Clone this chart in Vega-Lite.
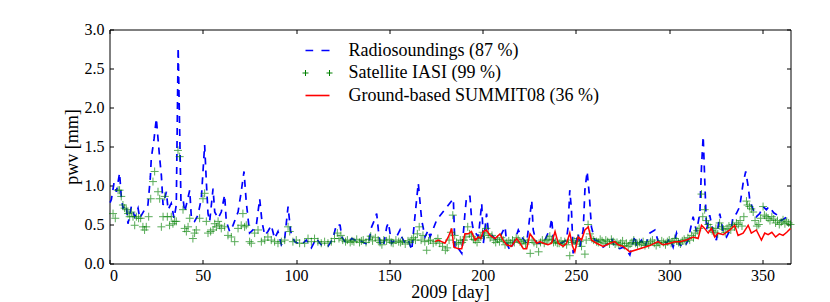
{
  "$schema": "https://vega.github.io/schema/vega-lite/v6.json",
  "width": 681,
  "height": 234,
  "autosize": {"type": "none"},
  "padding": {"left": 109.5, "top": 29.5, "right": 39.5, "bottom": 38.5},
  "background": "white",
  "datasets": {
    "radio": [
      {"day":0.3,"pwv":0.78},{"day":1.0,"pwv":0.82},{"day":2.4,"pwv":1.03},{"day":3.7,"pwv":0.92},{"day":5.4,"pwv":1.16},{"day":6.3,"pwv":0.86},{"day":7.2,"pwv":0.71},{"day":9.0,"pwv":0.75},{"day":9.9,"pwv":0.51},{"day":11.7,"pwv":0.73},{"day":13.5,"pwv":0.60},{"day":15.3,"pwv":0.71},{"day":16.2,"pwv":0.58},{"day":18.8,"pwv":0.69},{"day":20.6,"pwv":0.75},{"day":21.9,"pwv":1.11},{"day":22.4,"pwv":1.35},{"day":23.9,"pwv":1.60},{"day":25.1,"pwv":1.86},{"day":26.0,"pwv":1.60},{"day":26.9,"pwv":1.35},{"day":27.8,"pwv":1.13},{"day":28.7,"pwv":0.75},{"day":30.5,"pwv":0.92},{"day":31.4,"pwv":0.69},{"day":33.1,"pwv":0.77},{"day":34.6,"pwv":0.58},{"day":35.8,"pwv":0.75},{"day":36.8,"pwv":2.77},{"day":38.3,"pwv":0.80},{"day":39.4,"pwv":0.83},{"day":40.3,"pwv":0.66},{"day":43.0,"pwv":0.94},{"day":43.9,"pwv":0.58},{"day":45.6,"pwv":0.54},{"day":47.4,"pwv":0.62},{"day":49.2,"pwv":0.83},{"day":51.0,"pwv":1.52},{"day":51.9,"pwv":1.05},{"day":52.8,"pwv":0.64},{"day":53.7,"pwv":0.54},{"day":55.5,"pwv":0.96},{"day":56.4,"pwv":0.66},{"day":58.2,"pwv":0.58},{"day":59.9,"pwv":0.66},{"day":61.7,"pwv":0.88},{"day":62.6,"pwv":0.54},{"day":64.4,"pwv":0.41},{"day":66.2,"pwv":0.49},{"day":68.9,"pwv":0.66},{"day":70.6,"pwv":0.92},{"day":72.1,"pwv":1.18},{"day":73.3,"pwv":0.79},{"day":75.1,"pwv":0.39},{"day":76.9,"pwv":0.43},{"day":78.7,"pwv":0.49},{"day":80.5,"pwv":0.83},{"day":81.7,"pwv":0.54},{"day":83.2,"pwv":0.36},{"day":84.9,"pwv":0.41},{"day":86.7,"pwv":0.49},{"day":88.5,"pwv":0.32},{"day":90.3,"pwv":0.41},{"day":92.1,"pwv":0.24},{"day":93.9,"pwv":0.32},{"day":95.7,"pwv":0.73},{"day":97.1,"pwv":0.41},{"day":99.2,"pwv":0.28},{"day":102.8,"pwv":0.24},{"day":105.5,"pwv":0.30},{"day":108.2,"pwv":0.20},{"day":110.8,"pwv":0.32},{"day":113.5,"pwv":0.24},{"day":117.1,"pwv":0.22},{"day":119.8,"pwv":0.32},{"day":121.6,"pwv":0.50},{"day":123.6,"pwv":0.49},{"day":124.5,"pwv":0.34},{"day":126.2,"pwv":0.28},{"day":128.0,"pwv":0.26},{"day":129.8,"pwv":0.32},{"day":131.6,"pwv":0.30},{"day":133.4,"pwv":0.32},{"day":135.2,"pwv":0.28},{"day":137.0,"pwv":0.26},{"day":138.7,"pwv":0.24},{"day":140.5,"pwv":0.47},{"day":141.4,"pwv":0.52},{"day":143.2,"pwv":0.64},{"day":144.1,"pwv":0.43},{"day":145.0,"pwv":0.26},{"day":146.8,"pwv":0.22},{"day":148.6,"pwv":0.47},{"day":149.5,"pwv":0.52},{"day":151.2,"pwv":0.26},{"day":153.0,"pwv":0.30},{"day":155.7,"pwv":0.43},{"day":156.6,"pwv":0.34},{"day":158.4,"pwv":0.26},{"day":160.2,"pwv":0.30},{"day":162.0,"pwv":0.17},{"day":163.7,"pwv":0.60},{"day":165.5,"pwv":1.03},{"day":167.3,"pwv":0.56},{"day":169.1,"pwv":0.34},{"day":170.9,"pwv":0.43},{"day":171.8,"pwv":0.34},{"day":175.4,"pwv":0.56},{"day":184.3,"pwv":0.83},{"day":185.2,"pwv":0.17},{"day":187.0,"pwv":0.19},{"day":188.8,"pwv":0.13},{"day":190.5,"pwv":0.64},{"day":191.4,"pwv":0.86},{"day":193.2,"pwv":0.86},{"day":194.1,"pwv":0.56},{"day":195.0,"pwv":0.43},{"day":197.7,"pwv":0.34},{"day":199.5,"pwv":0.77},{"day":200.4,"pwv":0.26},{"day":202.1,"pwv":0.64},{"day":203.0,"pwv":0.43},{"day":205.7,"pwv":0.34},{"day":207.5,"pwv":0.30},{"day":209.3,"pwv":0.34},{"day":212.0,"pwv":0.47},{"day":212.9,"pwv":0.26},{"day":214.6,"pwv":0.17},{"day":217.3,"pwv":0.30},{"day":219.1,"pwv":0.43},{"day":220.9,"pwv":0.34},{"day":223.6,"pwv":0.26},{"day":226.3,"pwv":0.81},{"day":227.1,"pwv":0.43},{"day":228.9,"pwv":0.26},{"day":231.6,"pwv":0.26},{"day":233.4,"pwv":0.30},{"day":236.1,"pwv":0.45},{"day":237.0,"pwv":0.58},{"day":237.9,"pwv":0.30},{"day":240.5,"pwv":0.26},{"day":242.3,"pwv":0.26},{"day":244.9,"pwv":0.30},{"day":245.8,"pwv":0.47},{"day":246.7,"pwv":0.94},{"day":247.6,"pwv":0.69},{"day":248.5,"pwv":0.13},{"day":251.2,"pwv":0.39},{"day":252.1,"pwv":0.21},{"day":253.9,"pwv":0.43},{"day":254.8,"pwv":0.94},{"day":256.0,"pwv":1.18},{"day":257.1,"pwv":0.90},{"day":258.3,"pwv":0.47},{"day":260.1,"pwv":0.30},{"day":262.8,"pwv":0.28},{"day":264.6,"pwv":0.21},{"day":267.3,"pwv":0.26},{"day":269.1,"pwv":0.32},{"day":270.8,"pwv":0.21},{"day":273.5,"pwv":0.19},{"day":275.3,"pwv":0.21},{"day":277.1,"pwv":0.17},{"day":278.9,"pwv":0.11},{"day":281.6,"pwv":0.36},{"day":282.5,"pwv":0.21},{"day":285.1,"pwv":0.30},{"day":286.9,"pwv":0.21},{"day":289.6,"pwv":0.39},{"day":292.3,"pwv":0.43},{"day":294.1,"pwv":0.28},{"day":296.7,"pwv":0.30},{"day":298.5,"pwv":0.26},{"day":300.3,"pwv":0.32},{"day":302.1,"pwv":0.21},{"day":303.9,"pwv":0.39},{"day":305.7,"pwv":0.24},{"day":308.3,"pwv":0.21},{"day":310.1,"pwv":0.30},{"day":312.8,"pwv":0.60},{"day":314.6,"pwv":0.41},{"day":316.4,"pwv":0.64},{"day":317.3,"pwv":1.24},{"day":318.2,"pwv":1.63},{"day":319.1,"pwv":1.03},{"day":320.0,"pwv":0.43},{"day":321.7,"pwv":0.62},{"day":323.5,"pwv":0.41},{"day":325.3,"pwv":0.30},{"day":327.1,"pwv":0.64},{"day":328.9,"pwv":0.41},{"day":330.7,"pwv":0.34},{"day":333.4,"pwv":0.47},{"day":334.2,"pwv":0.60},{"day":336.0,"pwv":0.64},{"day":337.8,"pwv":0.73},{"day":339.6,"pwv":1.03},{"day":341.0,"pwv":1.18},{"day":342.3,"pwv":0.99},{"day":343.2,"pwv":0.81},{"day":345.0,"pwv":0.69},{"day":346.7,"pwv":0.60},{"day":348.5,"pwv":0.64},{"day":350.3,"pwv":0.73},{"day":352.1,"pwv":0.69},{"day":353.5,"pwv":0.73},{"day":356,"pwv":0.65},{"day":358,"pwv":0.62},{"day":360,"pwv":0.55},{"day":362,"pwv":0.58},{"day":365,"pwv":0.62}
    ],
    "iasi": [
      {"day":1.9,"pwv":0.64},{"day":3.1,"pwv":0.58},{"day":4.6,"pwv":0.94},{"day":5.4,"pwv":0.94},{"day":6.3,"pwv":0.86},{"day":7.2,"pwv":0.75},{"day":8.1,"pwv":0.71},{"day":9.0,"pwv":0.69},{"day":9.9,"pwv":0.64},{"day":10.8,"pwv":0.60},{"day":11.7,"pwv":0.66},{"day":12.6,"pwv":0.60},{"day":13.5,"pwv":0.49},{"day":14.4,"pwv":0.60},{"day":15.6,"pwv":0.58},{"day":16.7,"pwv":0.58},{"day":17.9,"pwv":0.47},{"day":18.8,"pwv":0.43},{"day":19.7,"pwv":0.47},{"day":21.0,"pwv":0.60},{"day":22.1,"pwv":0.83},{"day":23.3,"pwv":1.05},{"day":24.2,"pwv":1.18},{"day":26.0,"pwv":0.92},{"day":26.9,"pwv":0.83},{"day":27.8,"pwv":0.47},{"day":28.7,"pwv":0.60},{"day":29.6,"pwv":0.86},{"day":31.0,"pwv":0.60},{"day":32.2,"pwv":0.49},{"day":33.1,"pwv":0.60},{"day":34.0,"pwv":0.51},{"day":34.9,"pwv":0.54},{"day":35.8,"pwv":0.54},{"day":36.7,"pwv":1.45},{"day":37.6,"pwv":1.37},{"day":39.4,"pwv":0.69},{"day":40.3,"pwv":0.45},{"day":41.2,"pwv":0.41},{"day":42.1,"pwv":0.47},{"day":43.0,"pwv":0.58},{"day":44.7,"pwv":0.32},{"day":45.6,"pwv":0.39},{"day":46.5,"pwv":0.43},{"day":48.3,"pwv":0.58},{"day":50.1,"pwv":0.83},{"day":51.0,"pwv":0.90},{"day":51.9,"pwv":0.54},{"day":52.8,"pwv":0.39},{"day":54.2,"pwv":0.41},{"day":55.5,"pwv":0.43},{"day":56.4,"pwv":0.51},{"day":57.3,"pwv":0.47},{"day":58.2,"pwv":0.54},{"day":59.0,"pwv":0.49},{"day":59.9,"pwv":0.45},{"day":61.7,"pwv":0.47},{"day":63.5,"pwv":0.36},{"day":65.3,"pwv":0.34},{"day":67.1,"pwv":0.28},{"day":68.9,"pwv":0.45},{"day":70.6,"pwv":0.49},{"day":71.5,"pwv":0.64},{"day":72.4,"pwv":0.47},{"day":73.3,"pwv":0.49},{"day":75.1,"pwv":0.28},{"day":76.0,"pwv":0.26},{"day":77.8,"pwv":0.39},{"day":79.6,"pwv":0.43},{"day":81.4,"pwv":0.28},{"day":83.2,"pwv":0.30},{"day":84.9,"pwv":0.34},{"day":86.7,"pwv":0.30},{"day":88.5,"pwv":0.28},{"day":90.3,"pwv":0.26},{"day":92.1,"pwv":0.28},{"day":93.9,"pwv":0.30},{"day":95.7,"pwv":0.47},{"day":96.6,"pwv":0.41},{"day":98.3,"pwv":0.28},{"day":100.1,"pwv":0.30},{"day":101.9,"pwv":0.26},{"day":104.6,"pwv":0.26},{"day":106.4,"pwv":0.32},{"day":108.2,"pwv":0.28},{"day":109.9,"pwv":0.32},{"day":111.7,"pwv":0.28},{"day":113.5,"pwv":0.26},{"day":115.3,"pwv":0.28},{"day":117.1,"pwv":0.26},{"day":118.9,"pwv":0.28},{"day":120.6,"pwv":0.32},{"day":122.1,"pwv":0.39},
      {"day":123,"pwv":0.32},{"day":124,"pwv":0.36},{"day":125,"pwv":0.30},{"day":126.5,"pwv":0.28},{"day":127.5,"pwv":0.30},{"day":129,"pwv":0.27},{"day":130,"pwv":0.29},{"day":131,"pwv":0.28},{"day":132.5,"pwv":0.31},{"day":134,"pwv":0.27},{"day":135,"pwv":0.29},{"day":136,"pwv":0.30},{"day":137.5,"pwv":0.27},{"day":139,"pwv":0.31},{"day":140,"pwv":0.35},{"day":141,"pwv":0.29},{"day":142.5,"pwv":0.33},{"day":144,"pwv":0.30},{"day":145,"pwv":0.27},{"day":146,"pwv":0.24},{"day":147,"pwv":0.30},{"day":148.5,"pwv":0.29},{"day":150,"pwv":0.31},{"day":151,"pwv":0.27},{"day":152,"pwv":0.26},{"day":153.5,"pwv":0.30},{"day":155,"pwv":0.28},{"day":156,"pwv":0.27},{"day":157,"pwv":0.29},{"day":158.5,"pwv":0.25},{"day":160,"pwv":0.29},{"day":161,"pwv":0.27},{"day":162,"pwv":0.31},{"day":163,"pwv":0.33},{"day":164,"pwv":0.30},{"day":165,"pwv":0.38},{"day":166,"pwv":0.47},{"day":167,"pwv":0.30},{"day":168,"pwv":0.36},{"day":169,"pwv":0.28},{"day":170,"pwv":0.17},{"day":171,"pwv":0.29},{"day":172,"pwv":0.30},{"day":173.5,"pwv":0.26},{"day":175,"pwv":0.28},{"day":176,"pwv":0.32},{"day":177,"pwv":0.26},{"day":178.5,"pwv":0.22},{"day":180,"pwv":0.17},{"day":181,"pwv":0.20},{"day":182,"pwv":0.30},{"day":183,"pwv":0.40},{"day":184,"pwv":0.62},{"day":185,"pwv":0.36},{"day":186,"pwv":0.27},{"day":187,"pwv":0.25},{"day":188,"pwv":0.30},{"day":189,"pwv":0.27},{"day":190,"pwv":0.30},{"day":191,"pwv":0.34},{"day":192,"pwv":0.47},{"day":193,"pwv":0.38},{"day":194,"pwv":0.35},{"day":195,"pwv":0.31},{"day":196,"pwv":0.30},{"day":197,"pwv":0.27},{"day":198,"pwv":0.32},{"day":199,"pwv":0.34},{"day":200,"pwv":0.40},{"day":201,"pwv":0.36},{"day":202,"pwv":0.45},{"day":203,"pwv":0.38},{"day":204,"pwv":0.33},{"day":205,"pwv":0.36},{"day":206,"pwv":0.30},{"day":207,"pwv":0.27},{"day":208,"pwv":0.31},{"day":209,"pwv":0.28},{"day":210,"pwv":0.33},{"day":211,"pwv":0.30},{"day":212,"pwv":0.24},{"day":213,"pwv":0.27},{"day":214,"pwv":0.29},{"day":215,"pwv":0.26},{"day":216,"pwv":0.30},{"day":217,"pwv":0.27},{"day":218,"pwv":0.33},{"day":219,"pwv":0.31},{"day":220,"pwv":0.28},{"day":221,"pwv":0.26},{"day":222,"pwv":0.30},{"day":223,"pwv":0.25},{"day":224,"pwv":0.27},{"day":225.5,"pwv":0.13},{"day":226.5,"pwv":0.30},{"day":227.5,"pwv":0.27},{"day":229,"pwv":0.25},{"day":230,"pwv":0.15},{"day":231,"pwv":0.27},{"day":232,"pwv":0.30},{"day":233,"pwv":0.26},{"day":234,"pwv":0.29},{"day":235,"pwv":0.31},{"day":236,"pwv":0.35},{"day":237,"pwv":0.30},{"day":238,"pwv":0.27},{"day":239,"pwv":0.28},{"day":240,"pwv":0.26},
      {"day":241,"pwv":0.26},{"day":242,"pwv":0.29},{"day":243,"pwv":0.25},{"day":244,"pwv":0.28},{"day":245,"pwv":0.24},{"day":246,"pwv":0.30},{"day":246.7,"pwv":0.10},{"day":248,"pwv":0.27},{"day":249,"pwv":0.29},{"day":250,"pwv":0.25},{"day":251,"pwv":0.32},{"day":252,"pwv":0.28},{"day":253,"pwv":0.22},{"day":254.8,"pwv":0.12},{"day":255.5,"pwv":0.30},{"day":256.5,"pwv":0.50},{"day":257.5,"pwv":0.38},{"day":258.5,"pwv":0.32},{"day":259.5,"pwv":0.30},{"day":261,"pwv":0.28},{"day":262,"pwv":0.27},{"day":263,"pwv":0.31},{"day":264,"pwv":0.29},{"day":265,"pwv":0.26},{"day":266,"pwv":0.30},{"day":267,"pwv":0.28},{"day":268,"pwv":0.25},{"day":269,"pwv":0.31},{"day":270,"pwv":0.28},{"day":271,"pwv":0.25},{"day":272,"pwv":0.27},{"day":273,"pwv":0.24},{"day":274,"pwv":0.26},{"day":275,"pwv":0.29},{"day":276,"pwv":0.23},{"day":277,"pwv":0.26},{"day":278,"pwv":0.22},{"day":279,"pwv":0.25},{"day":280,"pwv":0.27},{"day":281,"pwv":0.30},{"day":282,"pwv":0.26},{"day":283,"pwv":0.24},{"day":284,"pwv":0.27},{"day":285,"pwv":0.25},{"day":286,"pwv":0.28},{"day":287,"pwv":0.23},{"day":288,"pwv":0.26},{"day":289,"pwv":0.24},{"day":290,"pwv":0.28},{"day":291,"pwv":0.30},{"day":292,"pwv":0.26},{"day":293,"pwv":0.23},{"day":294,"pwv":0.27},{"day":295,"pwv":0.25},{"day":296,"pwv":0.29},{"day":297,"pwv":0.27},{"day":298,"pwv":0.24},{"day":299,"pwv":0.28},{"day":300,"pwv":0.30},{"day":301,"pwv":0.26},{"day":302,"pwv":0.28},{"day":303,"pwv":0.32},{"day":304,"pwv":0.29},{"day":305,"pwv":0.27},{"day":306,"pwv":0.25},{"day":307,"pwv":0.29},{"day":308,"pwv":0.31},{"day":309,"pwv":0.28},{"day":310,"pwv":0.33},{"day":311,"pwv":0.30},{"day":312,"pwv":0.36},{"day":313,"pwv":0.33},{"day":314,"pwv":0.39},{"day":315,"pwv":0.42},{"day":316,"pwv":0.45},{"day":317.3,"pwv":0.89},{"day":318,"pwv":0.60},{"day":319,"pwv":0.69},{"day":320,"pwv":0.55},{"day":321,"pwv":0.50},{"day":322,"pwv":0.46},{"day":323,"pwv":0.42},{"day":324,"pwv":0.40},{"day":325,"pwv":0.45},{"day":326,"pwv":0.38},{"day":327,"pwv":0.52},{"day":328,"pwv":0.47},{"day":329,"pwv":0.44},{"day":330,"pwv":0.40},{"day":331,"pwv":0.45},{"day":332,"pwv":0.48},{"day":333,"pwv":0.43},{"day":334,"pwv":0.50},{"day":335,"pwv":0.47},{"day":336,"pwv":0.52},{"day":337,"pwv":0.50},{"day":338,"pwv":0.55},{"day":339,"pwv":0.48},{"day":340,"pwv":0.60},{"day":341.4,"pwv":0.80},{"day":342,"pwv":0.75},{"day":343,"pwv":0.73},{"day":344,"pwv":0.70},{"day":345,"pwv":0.66},{"day":346,"pwv":0.55},{"day":347,"pwv":0.48},{"day":348,"pwv":0.50},{"day":349,"pwv":0.58},{"day":350.3,"pwv":0.73},{"day":351,"pwv":0.62},{"day":352,"pwv":0.60},{"day":353,"pwv":0.58},{"day":354,"pwv":0.55},{"day":355,"pwv":0.60},{"day":356,"pwv":0.57},{"day":357,"pwv":0.52},{"day":358,"pwv":0.55},{"day":359,"pwv":0.50},{"day":360,"pwv":0.53},{"day":361,"pwv":0.56},{"day":362,"pwv":0.51},{"day":363,"pwv":0.54},{"day":364,"pwv":0.52},{"day":365,"pwv":0.50}
    ],
    "summit": [
      {"day":174.5,"pwv":0.28},{"day":176.2,"pwv":0.30},{"day":178,"pwv":0.28},{"day":179.8,"pwv":0.26},{"day":181.6,"pwv":0.34},{"day":183.4,"pwv":0.45},{"day":184.6,"pwv":0.21},{"day":187,"pwv":0.19},{"day":188.8,"pwv":0.19},{"day":190.5,"pwv":0.38},{"day":192.3,"pwv":0.38},{"day":194,"pwv":0.41},{"day":196,"pwv":0.30},{"day":197.7,"pwv":0.34},{"day":199,"pwv":0.32},{"day":200.3,"pwv":0.41},{"day":202,"pwv":0.43},{"day":204,"pwv":0.36},{"day":206.6,"pwv":0.32},{"day":209.3,"pwv":0.38},{"day":211,"pwv":0.30},{"day":212.8,"pwv":0.24},{"day":215.5,"pwv":0.22},{"day":218.2,"pwv":0.32},{"day":220,"pwv":0.26},{"day":221.8,"pwv":0.19},{"day":223.6,"pwv":0.19},{"day":225.4,"pwv":0.38},{"day":227.2,"pwv":0.32},{"day":229,"pwv":0.26},{"day":230.7,"pwv":0.28},{"day":232.5,"pwv":0.26},{"day":235,"pwv":0.24},{"day":237,"pwv":0.26},{"day":238.8,"pwv":0.41},{"day":240.5,"pwv":0.26},{"day":243.2,"pwv":0.22},{"day":245,"pwv":0.26},{"day":246.7,"pwv":0.39},{"day":248.2,"pwv":0.22},{"day":249.4,"pwv":0.15},{"day":251.2,"pwv":0.34},{"day":253,"pwv":0.30},{"day":254.8,"pwv":0.43},{"day":256.6,"pwv":0.47},{"day":258.3,"pwv":0.30},{"day":261,"pwv":0.26},{"day":264.6,"pwv":0.22},{"day":268.2,"pwv":0.26},{"day":270.8,"pwv":0.28},{"day":272.6,"pwv":0.24},{"day":275.3,"pwv":0.22},{"day":278.9,"pwv":0.15},{"day":284.2,"pwv":0.19},{"day":289.6,"pwv":0.23},{"day":294,"pwv":0.28},{"day":296.7,"pwv":0.24},{"day":300.3,"pwv":0.26},{"day":303,"pwv":0.28},{"day":305.7,"pwv":0.28},{"day":309.2,"pwv":0.30},{"day":312.8,"pwv":0.34},{"day":315.5,"pwv":0.32},{"day":317.3,"pwv":0.49},{"day":319,"pwv":0.45},{"day":320.9,"pwv":0.39},{"day":322.6,"pwv":0.45},{"day":324.4,"pwv":0.34},{"day":326.2,"pwv":0.39},{"day":328.9,"pwv":0.37},{"day":332.5,"pwv":0.43},{"day":335.1,"pwv":0.49},{"day":336.9,"pwv":0.36},{"day":339.6,"pwv":0.39},{"day":342.3,"pwv":0.49},{"day":344,"pwv":0.39},{"day":346.7,"pwv":0.43},{"day":349.4,"pwv":0.30},{"day":351.2,"pwv":0.39},{"day":353,"pwv":0.37},{"day":355,"pwv":0.40},{"day":357,"pwv":0.34},{"day":359,"pwv":0.38},{"day":361,"pwv":0.36},{"day":363,"pwv":0.40},{"day":365,"pwv":0.45}
    ]
  },
  "layer": [
    {
      "data": {"name": "radio"},
      "mark": {"type": "line", "strokeWidth": 1.7, "strokeDash": [7, 6]},
      "encoding": {
        "x": {"field": "day", "type": "quantitative", "scale": {"domain": [0, 365], "nice": false, "zero": false},
              "axis": {"orient": "bottom", "values": [0, 50, 100, 150, 200, 250, 300, 350], "title": "2009 [day]", "labelBaseline": "alphabetic", "labelPadding": 20.5, "titleBaseline": "alphabetic", "titleY": 34}},
        "y": {"field": "pwv", "type": "quantitative", "scale": {"domain": [0, 3], "nice": false, "zero": true},
              "axis": {"orient": "left", "values": [0, 0.5, 1, 1.5, 2, 2.5, 3], "format": ".1f", "title": "pwv [mm]", "labelPadding": 9.5, "titleX": -28}},
        "color": {"datum": "Radiosoundings (87 %)", "type": "nominal",
                  "scale": {"domain": ["Radiosoundings (87 %)", "Satellite IASI (99 %)", "Ground-based SUMMIT08 (36 %)"], "range": ["#0000ff", "#008000", "#ff0000"]},
                  "legend": {
                    "orient": "none", "legendX": 199, "legendY": 12, "title": null, "padding": 0,
                    "labelFont": "Liberation Serif", "labelFontSize": 18, "labelColor": "#000", "labelLimit": 0,
                    "labelOffset": 22, "symbolSize": 576, "symbolStrokeWidth": 1.6, "rowPadding": 4.5,
                    "encode": {"symbols": {"update": {
                      "shape": {"signal": "datum.value === 'Radiosoundings (87 %)' ? 'M-1,0H-0.36M0.33,0H1' : datum.value === 'Satellite IASI (99 %)' ? 'M-1.25,0H-0.75M-1,-0.25V0.25M0.75,0H1.25M1,-0.25V0.25' : 'M-1,0H1'"},
                      "fill": {"value": "transparent"},
                      "stroke": {"scale": "color", "field": "value"},
                      "strokeWidth": {"signal": "datum.value === 'Satellite IASI (99 %)' ? 1 : 1.6"},
                      "strokeDash": {"value": []},
                      "opacity": {"value": 1}
                    }}}
                  }}
      }
    },
    {
      "data": {"name": "iasi"},
      "mark": {"type": "point", "shape": "M-1,0H1M0,-1V1", "filled": false, "size": 64, "strokeWidth": 1, "opacity": 0.65},
      "encoding": {
        "x": {"field": "day", "type": "quantitative", "axis": null},
        "y": {"field": "pwv", "type": "quantitative", "axis": null},
        "color": {"datum": "Satellite IASI (99 %)", "type": "nominal"}
      }
    },
    {
      "data": {"name": "summit"},
      "mark": {"type": "line", "strokeWidth": 1.5},
      "encoding": {
        "x": {"field": "day", "type": "quantitative", "axis": {"orient": "top", "values": [0, 50, 100, 150, 200, 250, 300, 350], "labels": false, "title": null}},
        "y": {"field": "pwv", "type": "quantitative", "axis": {"orient": "right", "values": [0, 0.5, 1, 1.5, 2, 2.5, 3], "labels": false, "title": null}},
        "color": {"datum": "Ground-based SUMMIT08 (36 %)", "type": "nominal"}
      }
    }
  ],
  "resolve": {"axis": {"x": "independent", "y": "independent"}},
  "config": {
    "view": {"stroke": "#000", "strokeWidth": 1},
    "axis": {"labelFont": "Liberation Serif", "labelFontSize": 16, "labelColor": "#000", "titleFont": "Liberation Serif", "titleFontSize": 18, "titleFontWeight": "normal", "titleColor": "#000", "tickColor": "#000", "tickSize": -4, "tickWidth": 1, "domain": false, "grid": false}
  }
}
